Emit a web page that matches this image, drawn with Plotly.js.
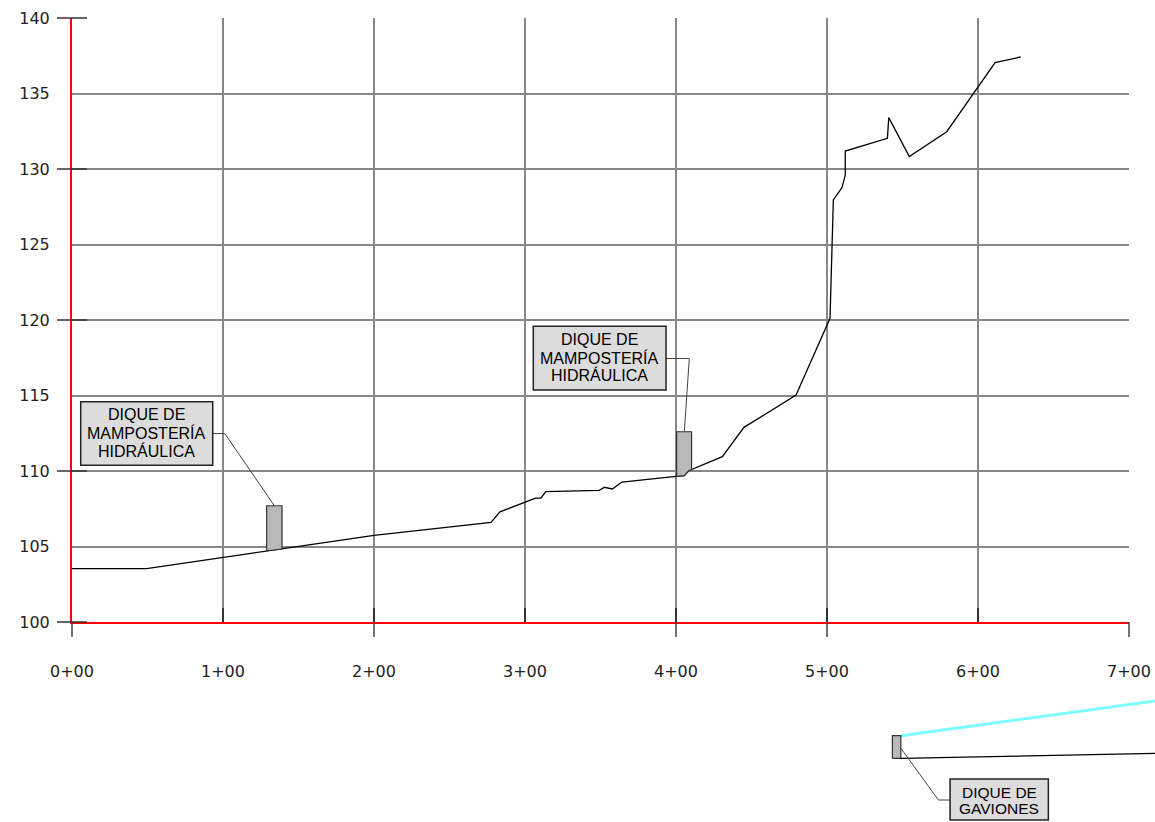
<!DOCTYPE html>
<html>
<head>
<meta charset="utf-8">
<script src="https://cdn.plot.ly/plotly-3.0.1.min.js"></script>
<style>html,body{margin:0;padding:0;background:#fff;}#chart{width:1155px;height:822px;}</style>
</head>
<body>
<div id="chart"></div>
<script>
// ---- data (stations in m, elevations in m) ----
const station = [0, 49.4, 200, 277.5, 283.4, 307, 310.6, 313.7, 349.2, 352.6, 357.8, 364.2, 400, 405.5, 408.4, 430.7, 445, 479.5, 502, 504.2, 509.9, 512.1, 512.1, 540, 540.9, 554.5, 579.3, 611.3, 628.3];
const elevation = [103.53, 103.53, 105.74, 106.6, 107.3, 108.2, 108.2, 108.63, 108.72, 108.92, 108.81, 109.27, 109.65, 109.69, 110.02, 110.95, 112.89, 115.03, 120.11, 127.95, 128.76, 129.6, 131.19, 132.03, 133.4, 130.82, 132.47, 137.04, 137.42];

const xTickVals = [0, 100, 200, 300, 400, 500, 600, 700];
const xTickText = ['0+00', '1+00', '2+00', '3+00', '4+00', '5+00', '6+00', '7+00'];
const yMajorTicks = [100, 110, 120, 130, 140];
const xTicksBelow = [0, 200, 400, 500, 700];

// dams (polygons)
const dam1X = [128.9, 139.1, 139.1, 128.9, 128.9];
const dam1Y = [104.72, 104.83, 107.7, 107.7, 104.72];
const dam2X = [400.4, 405.5, 408.4, 410.3, 410.3, 400.4, 400.4];
const dam2Y = [109.65, 109.69, 110.02, 110.07, 112.6, 112.6, 109.65];
const dam3X = [543.3, 548.9, 548.9, 543.3, 543.3];
const dam3Y = [90.97, 90.97, 92.47, 92.47, 90.97];

// lower profile (second section)
const cyanX = [548.9, 720];
const cyanY = [92.47, 94.81];
const lowerX = [548.9, 720];
const lowerY = [90.97, 91.30];

// leaders
const leader1X = [134.0, 101.2, 93.2];
const leader1Y = [107.7, 112.48, 112.48];
const leader2X = [405.5, 408.8, 393.4];
const leader2Y = [112.6, 117.45, 117.45];
const leader3X = [548.9, 573.8, 581.5];
const leader3Y = [91.64, 88.21, 88.21];

// label boxes: [x0, x1, y0, y1]
const box1 = [5.76, 93.2, 110.38, 114.59];
const box2 = [305.5, 393.4, 115.36, 119.58];
const box3 = [581.5, 646.6, 86.89, 89.60];
const label1Lines = ['DIQUE DE', 'MAMPOSTERÍA', 'HIDRÁULICA'];
const label1X = 49.5;
const label1Y = [113.71, 112.50, 111.34];
const label2Lines = ['DIQUE DE', 'MAMPOSTERÍA', 'HIDRÁULICA'];
const label2X = 349.4;
const label2Y = [118.73, 117.50, 116.36];
const label3Lines = ['DIQUE DE', 'GAVIONES'];
const label3X = 614.0;
const label3Y = [88.73, 87.66];

// ---- geometry of the figure ----
const W = 1155, H = 822;
const L = 72, R = 1129, T = 18, B = 622;
const xr = [0, 700], yr = [100, 140];
const sx = (R - L) / (xr[1] - xr[0]);
const sy = (B - T) / (yr[1] - yr[0]);
const x2range = [xr[0] - L / sx, xr[1] + (W - R) / sx];
const y2range = [yr[0] - (H - B) / sy, yr[1] + T / sy];

const traces = [];
function line(x, y, color, width, axes) {
  traces.push({x: x, y: y, type: 'scatter', mode: 'lines', line: {color: color, width: width},
    xaxis: axes[0], yaxis: axes[1], hoverinfo: 'skip'});
}
function poly(x, y, axes) {
  traces.push({x: x, y: y, type: 'scatter', mode: 'lines', fill: 'toself', fillcolor: '#b9b9b9',
    line: {color: '#333', width: 1.2}, xaxis: axes[0], yaxis: axes[1], hoverinfo: 'skip'});
}
const A1 = ['x', 'y'], A2 = ['x2', 'y2'];
poly(dam1X, dam1Y, A2);
poly(dam2X, dam2Y, A2);
line(station, elevation, '#000', 1.3, A1);
line(leader1X, leader1Y, '#444', 1, A2);
line(leader2X, leader2Y, '#444', 1, A2);
line(cyanX, cyanY, '#7ffcff', 3, A2);
line(lowerX, lowerY, '#000', 1.3, A2);
poly(dam3X, dam3Y, A2);
line(leader3X, leader3Y, '#444', 1, A2);

const shapes = [];
yMajorTicks.forEach(v => shapes.push({type: 'line', xref: 'x2', yref: 'y2',
  x0: xr[0] - 15 / sx, x1: xr[0] + 15 / sx, y0: v, y1: v, line: {color: '#333', width: 1.5}}));
xTicksBelow.forEach(v => shapes.push({type: 'line', xref: 'x2', yref: 'y2',
  x0: v, x1: v, y0: yr[0], y1: yr[0] - 15 / sy, line: {color: '#444', width: 1.5}}));
[box1, box2, box3].forEach(b => shapes.push({type: 'rect', xref: 'x2', yref: 'y2',
  x0: b[0], x1: b[1], y0: b[2], y1: b[3], fillcolor: '#dcdcdc', line: {color: '#222', width: 1.5}}));

const annotations = [];
function addLabel(lines, x, ys, size) {
  lines.forEach((t, i) => annotations.push({xref: 'x2', yref: 'y2', x: x, y: ys[i], text: t,
    showarrow: false, xanchor: 'center', yanchor: 'middle',
    font: {family: 'Liberation Sans, Arial, sans-serif', size: size, color: '#000'}}));
}
addLabel(label1Lines, label1X, label1Y, 16);
addLabel(label2Lines, label2X, label2Y, 16);
addLabel(label3Lines, label3X, label3Y, 15.5);

const tickFont = {family: 'DejaVu Sans, sans-serif', size: 16, color: '#222'};
const layout = {
  width: W, height: H,
  margin: {l: 0, r: 0, t: 0, b: 0, pad: 0},
  paper_bgcolor: '#fff', plot_bgcolor: 'rgba(0,0,0,0)',
  showlegend: false,
  xaxis: {domain: [L / W, R / W], range: xr, anchor: 'y', tickvals: xTickVals, ticktext: xTickText,
    showgrid: true, gridcolor: '#878787', gridwidth: 2, zeroline: false,
    showline: true, linecolor: '#ff0000', linewidth: 2,
    ticks: 'inside', ticklen: 14, tickwidth: 2, tickcolor: '#333',
    tickfont: tickFont, ticklabelstandoff: 34, fixedrange: true},
  yaxis: {domain: [(H - B) / H, (H - T) / H], range: yr, anchor: 'x', dtick: 5, tick0: 100,
    showgrid: true, gridcolor: '#878787', gridwidth: 2, zeroline: false,
    showline: true, linecolor: '#ff0000', linewidth: 2, ticks: '',
    tickfont: tickFont, ticklabelstandoff: 17, fixedrange: true},
  xaxis2: {domain: [0, 1], range: x2range, anchor: 'y2', visible: false, fixedrange: true},
  yaxis2: {domain: [0, 1], range: y2range, anchor: 'x2', visible: false, fixedrange: true},
  shapes: shapes,
  annotations: annotations
};
Plotly.newPlot('chart', traces, layout, {displayModeBar: false, staticPlot: true});
</script>
</body>
</html>
